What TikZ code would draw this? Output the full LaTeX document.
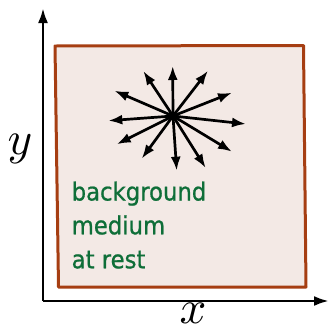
\documentclass[tikz,border=0pt]{standalone}
\usepackage{fontspec}
\usetikzlibrary{arrows.meta}
\newfontfamily\labelfont[FakeStretch=0.91,FakeBold=0.8]{DejaVu Sans}
\definecolor{boxfill}{RGB}{243,233,229}
\definecolor{boxline}{RGB}{166,62,18}
\definecolor{textgreen}{RGB}{14,110,56}
\tikzset{
  axis/.style={line width=2.8pt,-{Latex[length=15pt,width=10pt]}},
  ray/.style={line width=2.7pt,-{Latex[length=14pt,width=10pt]}},
  medium/.style={line width=3pt,draw=boxline,fill=boxfill,line join=round},
  mediumtext/.style={anchor=base west,inner sep=0pt,text=textgreen,font=\labelfont\fontsize{25}{30}\selectfont},
  axislabel/.style={inner sep=0pt}
}
\begin{document}
\begin{tikzpicture}[x=1pt,y=-1pt]
\useasboundingbox (0,0) rectangle (330,330);
% medium box
\draw[medium] (55,46) -- (303.5,45.5) -- (306,287) -- (58.5,287) -- cycle;
% axes
\coordinate (o) at (43,301);
\coordinate (ytip) at (43,8);
\coordinate (xtip) at (329,301);
\draw[axis] (o) -- (ytip);
\draw[axis] (o) -- (xtip);
\node[axislabel] (ylab) at (20,149) {\scalebox{4.7}{$y$}};
\node[axislabel] (xlab) at (193,313) {\scalebox{4.7}{$x$}};
% star of rays
\coordinate (c) at (173,116);
\foreach \n/\px/\py in {a/172.7/66, b/208/70.7, d/232/92.7, e/246/124, f/232/151.7, g/205.7/168, h/176.7/170.7, i/141.7/158.7, j/116.7/144.3, k/108.3/120.7, l/114.3/90.7, m/143.3/71}{
  \coordinate (r\n) at (\px,\py);
  \draw[ray] (c) -- (r\n);
}
% text
\node[mediumtext] (t1) at (71.5,200.5) {background};
\node[mediumtext] (t2) at (71.5,234.3) {medium};
\node[mediumtext] (t3) at (71.5,268.3) {at rest};
\end{tikzpicture}
\end{document}
